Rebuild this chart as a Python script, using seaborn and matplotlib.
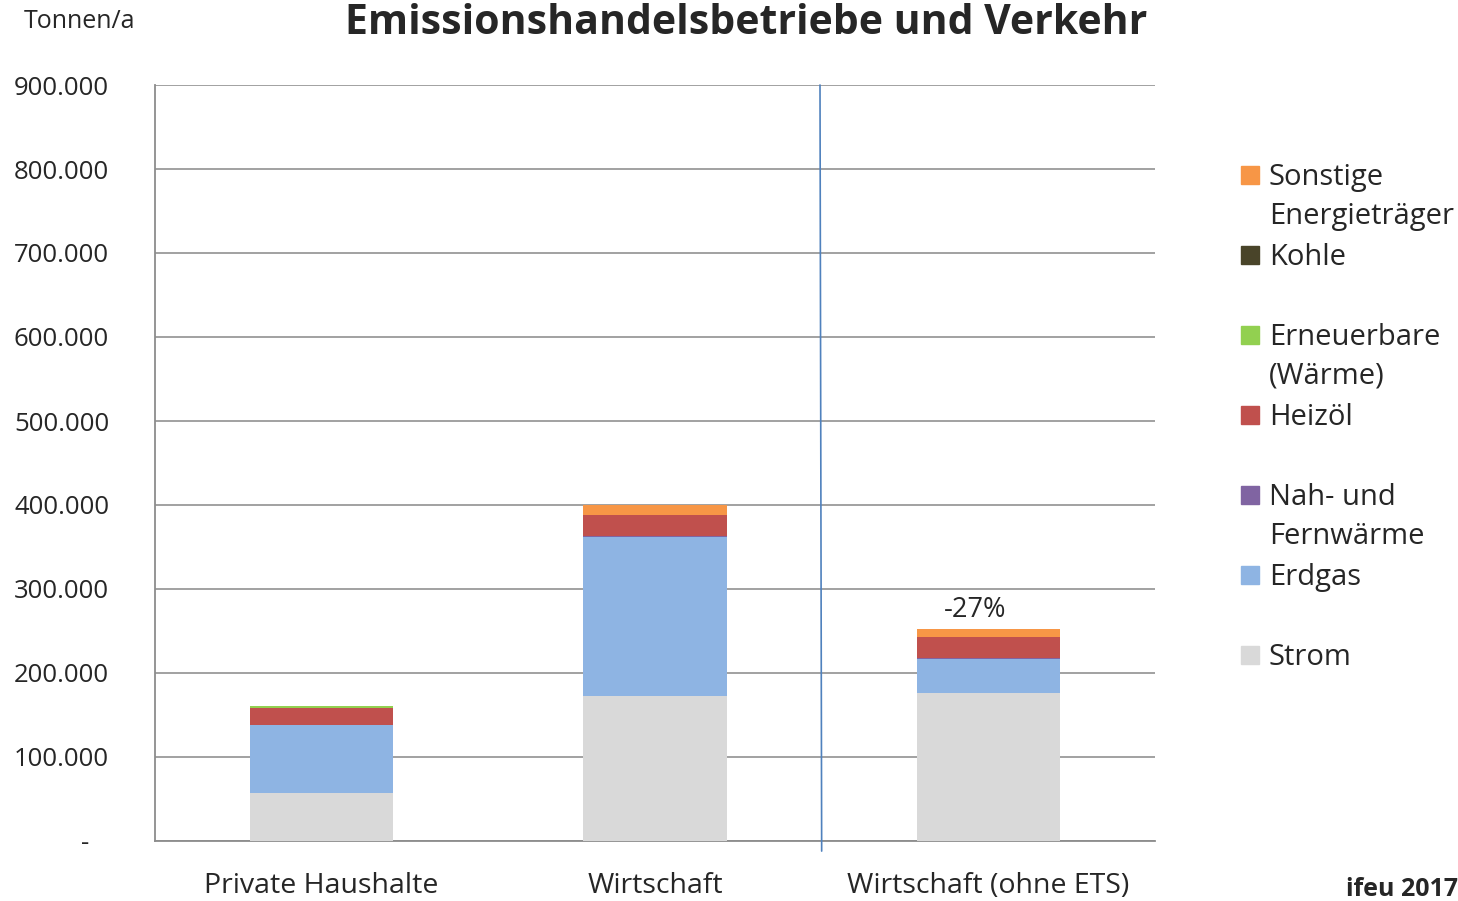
import numpy as np
import pandas as pd
import matplotlib
matplotlib.use("Agg")
import matplotlib.pyplot as plt
import seaborn as sns
from matplotlib.patches import Rectangle

# === Data (Tonnen/a) ===
categories = ["Private Haushalte", "Wirtschaft", "Wirtschaft (ohne ETS)"]
series = ["Strom", "Erdgas", "Nah- und Fernwärme", "Heizöl",
          "Erneuerbare (Wärme)", "Kohle", "Sonstige Energieträger"]
strom = [57000, 173000, 176500]
erdgas = [81000, 189000, 40000]
fernwaerme = [300, 1500, 1000]
heizoel = [20000, 25000, 25000]
erneuerbare = [2400, 0, 0]
kohle = [0, 0, 0]
sonstige = [0, 11000, 9500]
colors = ["#D9D9D9", "#8EB4E3", "#8064A2", "#C0504D", "#92D050", "#494429", "#F79646"]
yticks = [0, 100000, 200000, 300000, 400000, 500000, 600000, 700000, 800000, 900000]
change_label = "-27%"

df = pd.DataFrame(dict(zip(series, [strom, erdgas, fernwaerme, heizoel,
                                    erneuerbare, kohle, sonstige])),
                  index=categories)
cum = df.cumsum(axis=1)

sns.set_style("white")
plt.rcParams["font.family"] = ["Open Sans", "DejaVu Sans"]

fig = plt.figure(figsize=(14.58, 9.01), dpi=100)
ax = fig.add_axes([155 / 1458, 60 / 901, 1000 / 1458, 756 / 901])

# stacked bars: draw cumulative totals from top layer down
for name, col in reversed(list(zip(series, colors))):
    sns.barplot(x=categories, y=cum[name].values, color=col, width=0.43,
                saturation=1, linewidth=0, ax=ax, zorder=3)

ax.set_ylim(0, 900000)
ax.set_xlim(-0.5, 2.5)
ax.set_yticks(yticks)
ax.set_yticklabels(["-   "] + [f"{v:,}".replace(",", ".") for v in yticks[1:]])
ax.yaxis.grid(True, color="#9a9a9a", lw=1.3, zorder=0)
ax.tick_params(axis="y", length=0, pad=33, labelsize=18.5)
ax.tick_params(axis="x", length=0, pad=22, labelsize=20.5)
for s in ["top", "right"]:
    ax.spines[s].set_visible(False)
for s in ["left", "bottom"]:
    ax.spines[s].set_color("#8c8c8c")
    ax.spines[s].set_linewidth(1.3)
ax.set_xlabel("")
ax.set_ylabel("")

# separator line between Wirtschaft and Wirtschaft (ohne ETS)
ax.plot([1.495, 1.5], [900000, -12000], color="#4F81BD", lw=1.2,
        clip_on=False, zorder=4)

# change label above the last bar
ax.text(1.96, cum.iloc[2, -1] + 6000, change_label, ha="center", va="bottom",
        fontsize=19.5)

fig.text(345 / 1458, 1 - 34 / 901, "Emissionshandelsbetriebe und Verkehr",
         fontsize=29.5, fontweight="bold", ha="left", va="baseline")
fig.text(24 / 1458, 1 - 21 / 901, "Tonnen/a", fontsize=18, ha="left", va="center")
fig.text(1, 1 - 890 / 901, "ifeu 2017", fontsize=18,
         fontweight="bold", ha="right", va="center")

# legend (Excel-style, with multi-line entries and gaps)
legend_rows = [("Sonstige\nEnergieträger", colors[6], 175),
               ("Kohle", colors[5], 255),
               ("Erneuerbare\n(Wärme)", colors[4], 335),
               ("Heizöl", colors[3], 415),
               ("Nah- und\nFernwärme", colors[2], 495),
               ("Erdgas", colors[1], 575),
               ("Strom", colors[0], 655)]
for label, col, ypx in legend_rows:
    fig.patches.append(Rectangle((1241 / 1458, 1 - (ypx + 9) / 901), 18 / 1458, 18 / 901,
                                 transform=fig.transFigure, color=col))
    fig.text(1269 / 1458, 1 - (ypx - 12) / 901, label, fontsize=21, ha="left",
             va="top", linespacing=1.45)

fig.savefig("out.png", dpi=100)
